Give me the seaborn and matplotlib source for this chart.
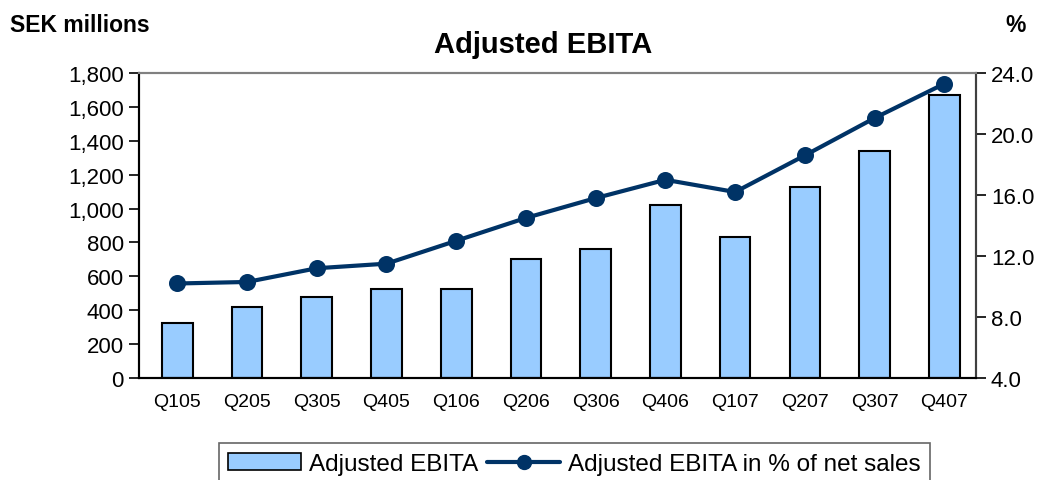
import numpy as np
import pandas as pd
import seaborn as sns
import matplotlib.pyplot as plt
from matplotlib.patches import Patch
from matplotlib.lines import Line2D
from matplotlib.ticker import FuncFormatter

quarters = ["Q105", "Q205", "Q305", "Q405", "Q106", "Q206",
            "Q306", "Q406", "Q107", "Q207", "Q307", "Q407"]
ebita = [325, 421, 480, 527, 527, 704, 762, 1024, 835, 1130, 1342, 1672]
ebita_pct = [10.2, 10.3, 11.2, 11.5, 13.0, 14.5, 15.8, 17.0, 16.2, 18.6, 21.05, 23.3]

sns.set_style("white")
plt.rcParams['font.family'] = ['Liberation Sans', 'DejaVu Sans']
plt.rcParams['text.color'] = 'black'
plt.rcParams['xtick.color'] = 'black'
plt.rcParams['ytick.color'] = 'black'
plt.rcParams['axes.labelcolor'] = 'black'

bar_color = "#99CCFF"
line_color = "#003366"

fig = plt.figure(figsize=(10.48, 4.81), dpi=100)
ax = fig.add_axes([0.1326, 0.212, 0.7984, 0.634])

df = pd.DataFrame({"quarter": quarters, "ebita": ebita, "pct": ebita_pct})
sns.barplot(data=df, x="quarter", y="ebita", ax=ax, color=bar_color,
            edgecolor="black", linewidth=1.5, width=0.44, saturation=1)
ax.set_ylim(0, 1800)
ax.set_yticks(np.arange(0, 1801, 200))
ax.yaxis.set_major_formatter(FuncFormatter(lambda v, p: f"{int(v):,}"))
ax.set_xlabel("")
ax.set_ylabel("")

ax2 = ax.twinx()
sns.pointplot(data=df, x="quarter", y="pct", ax=ax2, color=line_color,
              markers="o", markersize=10, linewidth=3, errorbar=None)
ax2.set_ylim(4, 24)
ax2.set_yticks(np.arange(4, 24.1, 4))
ax2.yaxis.set_major_formatter(FuncFormatter(lambda v, p: f"{v:.1f}"))
ax2.set_ylabel("")
ax2.set_xlabel("")
ax.set_xlim(-0.55, 11.45)
ax2.set_xlim(-0.55, 11.45)

for a in (ax, ax2):
    for s in a.spines.values():
        s.set_visible(True)
    a.spines["top"].set_color("#808080")
    a.spines["top"].set_linewidth(1.5)
    a.spines["bottom"].set_color("black")
    a.spines["bottom"].set_linewidth(1.5)
    a.spines["left"].set_color("black")
    a.spines["left"].set_linewidth(1.5)
    a.spines["right"].set_color("#404040")
    a.spines["right"].set_linewidth(1.5)

ax.tick_params(axis="y", direction="out", length=7, width=1.2, labelsize=16, pad=4, left=True)
ax.tick_params(axis="x", length=0, labelsize=14, pad=11)
ax2.tick_params(axis="y", direction="out", length=7, width=1.2, labelsize=16, pad=4, right=True)

fig.text(0.518, 0.906, "Adjusted EBITA", ha="center", va="center",
         fontsize=21, fontweight="bold")
fig.text(0.01, 0.946, "SEK millions", ha="left", va="center",
         fontsize=16.5, fontweight="bold")
fig.text(0.969, 0.946, "%", ha="center", va="center",
         fontsize=16.5, fontweight="bold")

handles = [Patch(facecolor=bar_color, edgecolor="black", linewidth=1.2),
           Line2D([0], [0], color=line_color, linewidth=3, marker="o", markersize=10)]
leg = fig.legend(handles, ["Adjusted EBITA", "Adjusted EBITA in % of net sales"],
                 loc="upper center", bbox_to_anchor=(0.548, 0.076), ncol=2,
                 fontsize=17.5, frameon=True, fancybox=False, borderpad=0.4,
                 handlelength=3.0, handletextpad=0.3, columnspacing=0.4,
                 borderaxespad=0)
leg.get_frame().set_edgecolor("#404040")
leg.get_frame().set_linewidth(1.2)

fig.savefig("out.png", dpi=100)
